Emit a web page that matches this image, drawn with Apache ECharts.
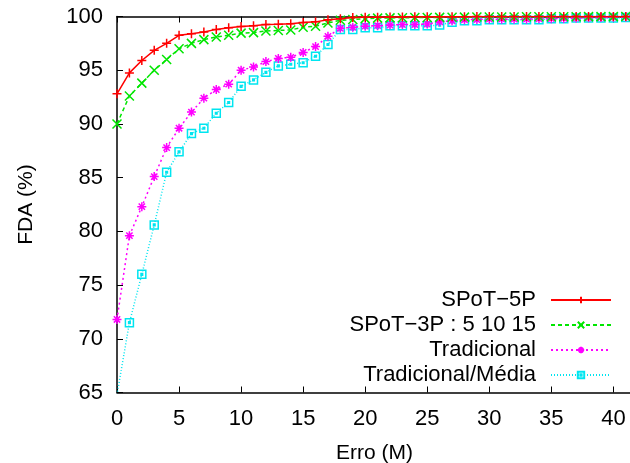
<!DOCTYPE html>
<html lang="pt">
<head>
    <meta charset="utf-8">
    <title>FDA x Erro</title>
    <script src="https://cdn.jsdelivr.net/npm/echarts@6/dist/echarts.min.js"></script>
</head>

<body style="margin:0; background:#fff;">
<div id="main" style="width: 630px; height: 463px;"></div>
</body>

<script type="text/javascript">
    // eixo x: erro 0..41
    const erro = [];
    for (let i = 0; i <= 41; i++) erro.push(i);

    const spot5p = [92.8, 94.75, 95.9, 96.85, 97.5, 98.25, 98.4, 98.55, 98.8, 98.95,
        99.07, 99.15, 99.25, 99.28, 99.33, 99.45, 99.5, 99.7, 99.8, 99.9,
        99.92, 99.94, 99.95, 99.96, 99.97, 99.97, 99.98, 99.98, 99.98, 99.99,
        99.99, 99.99, 99.99, 100, 100, 100, 100, 100, 100, 100, 100, 100];
    const spot3p = [90.0, 92.6, 93.8, 95.0, 96.0, 97.0, 97.5, 97.85, 98.1, 98.25,
        98.45, 98.5, 98.65, 98.7, 98.75, 99.0, 99.1, 99.4, 99.65, 99.72,
        99.8, 99.85, 99.87, 99.88, 99.9, 99.9, 99.92, 99.93, 99.94, 99.95,
        99.95, 99.96, 99.96, 99.97, 99.97, 99.98, 99.98, 99.98, 99.99, 99.99, 99.99, 100];
    const tradicional = [71.8, 79.6, 82.3, 85.1, 87.8, 89.6, 91.1, 92.4, 93.2, 93.7,
        95.0, 95.3, 95.8, 96.1, 96.2, 96.65, 97.2, 98.15, 98.9, 99.0,
        99.1, 99.15, 99.2, 99.25, 99.25, 99.3, 99.5, 99.6, 99.7, 99.72,
        99.75, 99.75, 99.75, 99.75, 99.78, 99.8, 99.82, 99.86, 99.88, 99.9, 99.92, 99.95];
    const tradMedia = [64.8, 71.5, 76.0, 80.6, 85.5, 87.4, 89.1, 89.6, 91.0, 92.0,
        93.5, 94.1, 94.8, 95.4, 95.55, 95.7, 96.3, 97.4, 98.8, 98.8,
        98.95, 98.95, 99.13, 99.13, 99.13, 99.13, 99.2, 99.47, 99.6, 99.6,
        99.7, 99.7, 99.7, 99.7, 99.7, 99.8, 99.8, 99.85, 99.85, 99.85, 99.85, 99.9];

    const nomes = ['SPoT\u22125P', 'SPoT\u22123P : 5 10 15', 'Tradicional', 'Tradicional/M\u00e9dia'];
    const cores = ['#ff0000', '#00e600', '#ff00ff', '#00e5f0'];

    const simbolos = [
        'path://M0,5L10,5M5,0L5,10',
        'path://M0,0L10,10M10,0L0,10',
        'path://M0,5L10,5M5,0L5,10M1.5,1.5L8.5,8.5M8.5,1.5L1.5,8.5',
        'path://M0,0L10,0L10,10L0,10ZM4,4L6,4L6,6L4,6Z'
    ];
    const tracos = ['solid', [4, 3], [2, 3], [1, 2]];
    const dados = [spot5p, spot3p, tradicional, tradMedia];

    const fonte = '"Liberation Sans", Arial, sans-serif';

    function serie(k) {
        return {
            name: nomes[k],
            type: 'line',
            data: erro.map((x, i) => [x, dados[k][i]]),
            symbol: simbolos[k],
            symbolSize: k === 3 ? 8 : 9,
            showAllSymbol: true,
            clip: true,
            lineStyle: { color: cores[k], width: 1.5, type: tracos[k] },
            itemStyle: { color: 'rgba(0,0,0,0)', borderColor: cores[k], borderWidth: 1.5 },
            emphasis: { disabled: true },
            z: 10 - k
        };
    }

    const eixoX = {
        type: 'value',
        min: 0,
        max: 41.5,
        interval: 5,
        axisLine: { lineStyle: { color: '#000', width: 1.5 } },
        axisTick: { inside: true, length: 6, lineStyle: { color: '#000' } },
        splitLine: { show: false }
    };

    let myChart = echarts.init(document.getElementById('main'), null, { renderer: 'canvas' });
    const option = {
        animation: false,
        grid: { left: 117, right: -2, top: 16.5, bottom: 70.5, outerBoundsMode: 'none' },
        legend: {
            data: nomes,
            orient: 'vertical',
            align: 'right',
            right: 18,
            top: 289,
            padding: 0,
            itemGap: 3,
            itemWidth: 60,
            itemHeight: 8,
            selectedMode: false,
            textStyle: { fontFamily: fonte, fontSize: 22, color: '#000', lineHeight: 22, padding: [0, 10, 0, 0] }
        },
        xAxis: [
            Object.assign({}, eixoX, {
                position: 'bottom',
                name: 'Erro (M)',
                nameLocation: 'middle',
                nameGap: 50,
                nameTextStyle: { fontFamily: fonte, fontSize: 21, color: '#000' },
                axisLabel: {
                    fontFamily: fonte, fontSize: 22, color: '#000', margin: 15,
                    formatter: v => (v % 5 === 0 ? String(v) : '')
                }
            }),
            Object.assign({}, eixoX, {
                position: 'top',
                axisLabel: { show: false }
            })
        ],
        yAxis: {
            type: 'value',
            min: 65,
            max: 100,
            interval: 5,
            name: 'FDA (%)',
            nameLocation: 'middle',
            nameGap: 80,
            nameTextStyle: { fontFamily: fonte, fontSize: 21, color: '#000' },
            axisLine: { show: true, lineStyle: { color: '#000', width: 1.5 } },
            axisTick: { show: true, inside: true, length: 6, lineStyle: { color: '#000' } },
            axisLabel: { fontFamily: fonte, fontSize: 22, color: '#000', margin: 14 },
            splitLine: { show: false }
        },
        series: [0, 1, 2, 3].map(serie)
    };
    myChart.setOption(option);
</script>
</html>
